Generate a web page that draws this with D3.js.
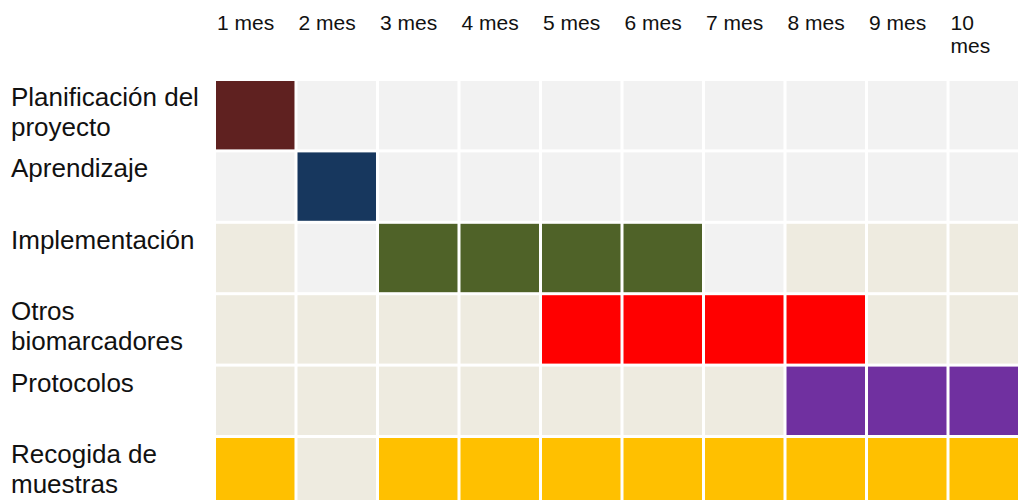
<!doctype html>
<html>
<head>
<meta charset="utf-8">
<title>Cronograma</title>
<script src="https://cdn.jsdelivr.net/npm/d3@7"></script>
<style>
  body { margin: 0; background: #fff; }
  text { font-family: "Liberation Sans", Arial, sans-serif; fill: #111; }
</style>
</head>
<body>
<svg width="1018" height="500"></svg>
<script>
// meses (columnas)
var months = ["1 mes", "2 mes", "3 mes", "4 mes", "5 mes", "6 mes", "7 mes", "8 mes", "9 mes", "10 mes"];
// tareas (filas)
var tasks = ["Planificación del proyecto", "Aprendizaje", "Implementación", "Otros biomarcadores", "Protocolos", "Recogida de muestras"];

// estado por mes: 2 = activo, 1 = pendiente, 0 = libre
var planificacion = [2, 0, 0, 0, 0, 0, 0, 0, 0, 0];
var aprendizaje   = [0, 2, 0, 0, 0, 0, 0, 0, 0, 0];
var implementacion= [1, 0, 2, 2, 2, 2, 0, 1, 1, 1];
var biomarcadores = [1, 1, 1, 1, 2, 2, 2, 2, 1, 1];
var protocolos    = [1, 1, 1, 1, 1, 1, 1, 2, 2, 2];
var muestras      = [2, 1, 2, 2, 2, 2, 2, 2, 2, 2];
var states = [planificacion, aprendizaje, implementacion, biomarcadores, protocolos, muestras];

// colores
var taskColors = ["#5f2120", "#17375e", "#4f6228", "#ff0000", "#7030a0", "#ffc000"];
var emptyColor = "#f2f2f2", pendingColor = "#eeebe0";

var svg = d3.select("svg"),
    width = +svg.attr("width");

var x = d3.scaleBand().domain(months).range([216, 1028]).paddingInner(0.037);
var y = d3.scaleBand().domain(tasks).range([81, 506.4]).paddingInner(0.042);

var cells = [];
tasks.forEach(function (t, i) {
    months.forEach(function (m, j) {
        cells.push({task: t, month: m, state: states[i][j], color: taskColors[i]});
    });
});

svg.append("g")
    .selectAll("rect")
    .data(cells)
    .enter().append("rect")
    .attr("x", function (d) { return x(d.month); })
    .attr("y", function (d) { return y(d.task); })
    .attr("width", x.bandwidth())
    .attr("height", y.bandwidth())
    .attr("fill", function (d) {
        if (d.state == 2) return d.color;
        return d.state == 1 ? pendingColor : emptyColor;
    });

// partir texto en lineas
function wrap(sel, maxW, lineH) {
    sel.each(function (d) {
        var text = d3.select(this),
            words = text.text().split(" "),
            x0 = text.attr("x");
        text.text(null);
        var line = [];
        var tspan = text.append("tspan").attr("x", x0).attr("dy", 0);
        words.forEach(function (w) {
            line.push(w);
            tspan.text(line.join(" "));
            if (tspan.node().getComputedTextLength() > maxW(d) && line.length > 1) {
                line.pop();
                tspan.text(line.join(" "));
                line = [w];
                tspan = text.append("tspan").attr("x", x0).attr("dy", lineH).text(w);
            }
        });
    });
}

// etiquetas de columnas
svg.append("g")
    .selectAll("text")
    .data(months)
    .enter().append("text")
    .attr("x", function (d) { return x(d) + 1; })
    .attr("y", 30)
    .attr("font-size", 21)
    .text(function (d) { return d; })
    .call(wrap, function (d) { return Math.min(x.bandwidth(), width - x(d) - 10); }, 23);

// etiquetas de filas
svg.append("g")
    .selectAll("text")
    .data(tasks)
    .enter().append("text")
    .attr("x", 11)
    .attr("y", function (d) { return y(d) + 25; })
    .attr("font-size", 26)
    .text(function (d) { return d; })
    .call(wrap, function () { return 198; }, 30);
</script>
</body>
</html>
